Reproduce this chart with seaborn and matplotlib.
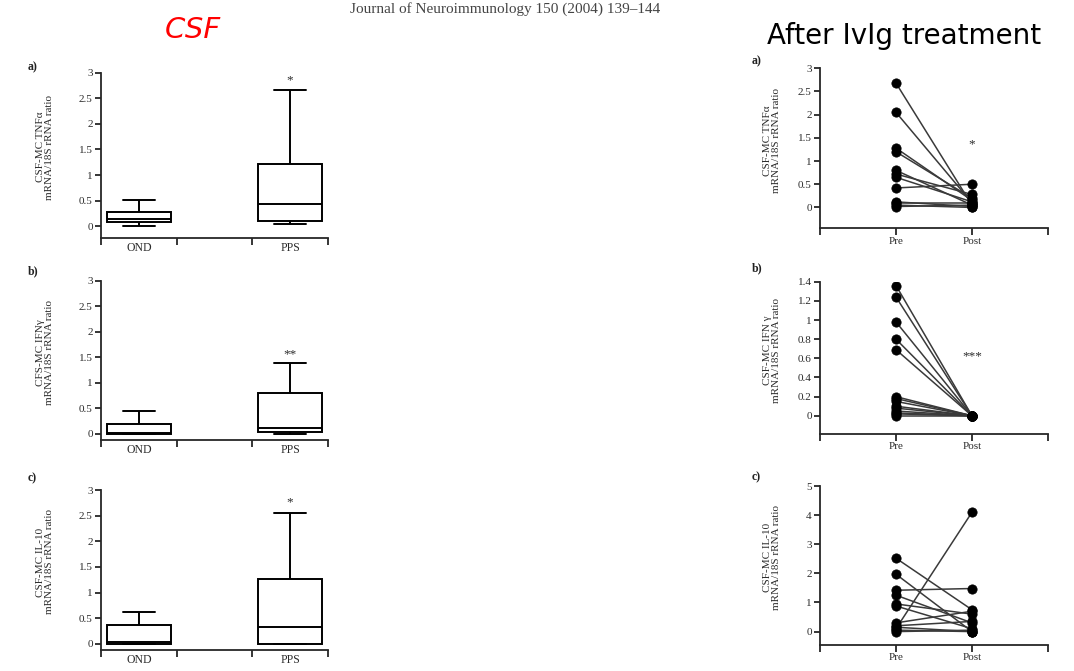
import numpy as np
import pandas as pd
import matplotlib
matplotlib.use("Agg")
import matplotlib.pyplot as plt
import seaborn as sns

# CSF box plots: five-number summaries [min, q1, median, q3, max]
groups = ["OND", "PPS"]
tnf_ond = [0.00, 0.085, 0.15, 0.28, 0.51]
tnf_pps = [0.04, 0.10, 0.43, 1.21, 2.67]
ifn_ond = [0.00, 0.00, 0.02, 0.20, 0.44]
ifn_pps = [0.00, 0.03, 0.11, 0.81, 1.38]
il10_ond = [0.00, 0.00, 0.03, 0.36, 0.62]
il10_pps = [0.00, 0.00, 0.32, 1.26, 2.55]

# paired values before / after IvIg
times = ["Pre", "Post"]
tnf_pre = [2.68, 2.05, 1.28, 1.20, 0.80, 0.72, 0.65, 0.42, 0.12, 0.10, 0.05, 0.02]
tnf_post = [0.05, 0.10, 0.15, 0.20, 0.05, 0.28, 0.12, 0.50, 0.02, 0.10, 0.00, 0.05]
ifn_pre = [1.36, 1.24, 0.98, 0.80, 0.69, 0.20, 0.18, 0.15, 0.10, 0.08, 0.05, 0.03, 0.02, 0.00]
ifn_post = [0.0, 0.0, 0.0, 0.0, 0.0, 0.0, 0.0, 0.0, 0.0, 0.0, 0.0, 0.0, 0.0, 0.0]
il10_pre = [2.52, 1.97, 1.42, 1.25, 0.95, 0.88, 0.30, 0.20, 0.15, 0.10, 0.05, 0.00]
il10_post = [0.75, 0.00, 1.48, 0.30, 0.60, 0.10, 0.70, 0.35, 0.00, 4.10, 0.00, 0.05]

left_ylabels = ["CSF-MC TNF\u03b1\nmRNA/18S rRNA ratio",
                "CFS-MC IFN\u03b3\nmRNA/18S rRNA ratio",
                "CSF-MC IL-10\nmRNA/18S rRNA ratio"]
right_ylabels = ["CSF-MC TNF\u03b1\nmRNA/18S rRNA ratio",
                 "CSF-MC IFN \u03b3\nmRNA/18S rRNA ratio",
                 "CSF-MC IL-10\nmRNA/18S rRNA ratio"]
left_stars = ["*", "**", "*"]
left_star_y = [2.85, 1.55, 2.75]
right_stars = ["*", "***", ""]
right_star_y = [1.35, 0.62, 0]
panel_tags = ["a)", "b)", "c)"]

sns.set_theme(style="ticks")
plt.rcParams["font.family"] = ["Liberation Serif", "DejaVu Serif"]
plt.rcParams["axes.linewidth"] = 1.3
plt.rcParams["xtick.major.width"] = 1.3
plt.rcParams["ytick.major.width"] = 1.3

W, H = 1074, 671
fig = plt.figure(figsize=(W / 100, H / 100), dpi=100)
fig.patch.set_facecolor("white")


def px_axes(left, right, top, bottom):
    return fig.add_axes([left / W, 1 - bottom / H, (right - left) / W, (bottom - top) / H])


tick_col = "#2b2b2b"

# ---- left column: box plots
left_boxes = [(tnf_ond, tnf_pps), (ifn_ond, ifn_pps), (il10_ond, il10_pps)]
left_pos = [(72.7, 238), (280.7, 440), (490, 650)]
left_ylim_bottom = [-0.23, -0.12, -0.12]

for i, (ond, pps) in enumerate(left_boxes):
    top, bot = left_pos[i]
    ax = px_axes(101, 328, top, bot)
    df = pd.DataFrame({"group": ["OND"] * len(ond) + ["PPS"] * len(pps), "value": ond + pps})
    sns.boxplot(data=df, x="group", y="value", order=groups, ax=ax, whis=(0, 100),
                width=0.42, color="white", linecolor="black", linewidth=1.4)
    ax.set_xlim(-0.25, 1.25)
    ax.set_ylim(left_ylim_bottom[i], 3)
    ax.set_yticks(np.arange(0, 3.01, 0.5))
    ax.set_yticklabels([f"{v:g}" for v in np.arange(0, 3.01, 0.5)])
    ax.set_xticks([-0.25, 0.25, 0.75, 1.25])
    ax.set_xticklabels([])
    ax.set_xticks([0, 1], minor=True)
    ax.set_xticklabels(groups, minor=True)
    ax.tick_params(axis="x", which="minor", length=0, pad=3, labelsize=8.5, labelcolor=tick_col)
    ax.tick_params(axis="x", which="major", length=5, direction="out")
    ax.tick_params(axis="y", length=4, labelsize=8, labelcolor=tick_col, pad=2)
    sns.despine(ax=ax)
    ax.set_xlabel("")
    ax.set_ylabel(left_ylabels[i], fontsize=8, color=tick_col, linespacing=1.1)
    ax.yaxis.set_label_coords(-0.205, 0.55)
    ax.text(1, left_star_y[i], left_stars[i], ha="center", va="center", fontsize=9.5, color=tick_col)

# ---- right column: paired pre / post
right_data = [(tnf_pre, tnf_post), (ifn_pre, ifn_post), (il10_pre, il10_post)]
right_pos = [(68.3, 228.3), (281.7, 434), (486, 645)]
right_ylim = [(-0.45, 3), (-0.19, 1.4), (-0.46, 5)]
right_ticks = [np.arange(0, 3.01, 0.5), np.arange(0, 1.41, 0.2), np.arange(0, 5.01, 1)]

for i, (pre, post) in enumerate(right_data):
    top, bot = right_pos[i]
    ax = px_axes(820, 1048, top, bot)
    n = len(pre)
    df = pd.DataFrame({"id": list(range(n)) * 2,
                       "time": ["Pre"] * n + ["Post"] * n,
                       "value": pre + post})
    df["x"] = df["time"].map({"Pre": 0, "Post": 1})
    sns.lineplot(data=df, x="x", y="value", units="id", estimator=None, ax=ax,
                 color="#3a3a3a", linewidth=1.1, sort=False)
    sns.scatterplot(data=df, x="x", y="value", ax=ax, color="black", s=45,
                    edgecolor="black", linewidth=0.5, zorder=3)
    ax.set_xlim(-1, 2)
    ax.set_ylim(*right_ylim[i])
    ax.set_yticks(right_ticks[i])
    ax.set_yticklabels([f"{round(v, 1):g}" for v in right_ticks[i]])
    ax.set_xticks([-1, 0, 1, 2])
    ax.set_xticklabels(["", "Pre", "Post", ""])
    ax.tick_params(axis="x", length=5, labelsize=8, labelcolor=tick_col, pad=1)
    ax.tick_params(axis="y", length=4, labelsize=8, labelcolor=tick_col, pad=2)
    sns.despine(ax=ax)
    ax.set_xlabel("")
    ax.set_ylabel(right_ylabels[i], fontsize=8, color=tick_col, linespacing=1.1)
    ax.yaxis.set_label_coords(-0.17, 0.55)
    if right_stars[i]:
        ax.text(1, right_star_y[i], right_stars[i], ha="center", va="center", fontsize=9.5, color=tick_col)

# panel tags
for tag, y in zip(panel_tags, [67, 271, 478]):
    fig.text(28 / W, 1 - y / H, tag, fontsize=8.5, fontweight="bold", color="#222", va="center")
for tag, y in zip(panel_tags, [61, 268, 477]):
    fig.text(752 / W, 1 - y / H, tag, fontsize=8.5, fontweight="bold", color="#222", va="center")

# headings
fig.text(193 / W, 1 - 30 / H, "CSF", color="red", fontsize=21, fontstyle="italic",
         family="DejaVu Sans", ha="center", va="center")
fig.text(904 / W, 1 - 36 / H, "After IvIg treatment", color="black", fontsize=20,
         family="DejaVu Sans", ha="center", va="center")
fig.text(505 / W, 1 - 2 / H, "Journal of Neuroimmunology 150 (2004) 139\u2013144", color="#444",
         fontsize=11, ha="center", va="top")

fig.savefig("out.png", dpi=100, facecolor="white")
